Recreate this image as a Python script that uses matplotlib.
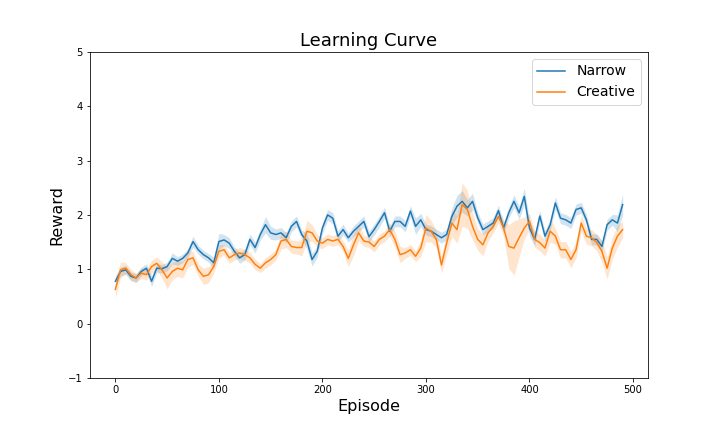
import numpy as np
import matplotlib
matplotlib.use("Agg")
import matplotlib.pyplot as plt

# values, one every 5 episodes
episodes = np.arange(0, 495, 5)

narrow_mean = [
    0.78, 0.96, 0.99, 0.87, 0.84, 0.96, 1.02, 0.78, 1.02, 1.01,
    1.05, 1.20, 1.15, 1.20, 1.30, 1.51, 1.36, 1.27, 1.21, 1.12,
    1.51, 1.54, 1.48, 1.33, 1.21, 1.27, 1.55, 1.40, 1.64, 1.82,
    1.67, 1.64, 1.67, 1.58, 1.79, 1.88, 1.64, 1.52, 1.18, 1.33,
    1.76, 2.00, 1.94, 1.61, 1.73, 1.58, 1.70, 1.79, 1.88, 1.60,
    1.73, 1.88, 2.04, 1.70, 1.88, 1.88, 1.79, 2.07, 1.79, 1.91,
    1.73, 1.70, 1.64, 1.58, 1.64, 1.97, 2.16, 2.25, 2.13, 2.25,
    1.95, 1.73, 1.79, 1.85, 2.08, 1.76, 2.04, 2.25, 2.04, 2.34,
    1.76, 1.55, 1.98, 1.61, 1.82, 2.22, 1.94, 1.91, 1.85, 2.10,
    2.13, 1.91, 1.55, 1.55, 1.42, 1.82, 1.91, 1.85, 2.19,
]
narrow_std = [
    0.10, 0.08, 0.08, 0.08, 0.08, 0.08, 0.08, 0.10, 0.08, 0.08,
    0.08, 0.10, 0.08, 0.08, 0.08, 0.10, 0.08, 0.08, 0.08, 0.10,
    0.15, 0.10, 0.10, 0.08, 0.10, 0.10, 0.10, 0.10, 0.10, 0.15,
    0.12, 0.10, 0.10, 0.10, 0.10, 0.10, 0.08, 0.15, 0.12, 0.10,
    0.10, 0.10, 0.10, 0.10, 0.10, 0.08, 0.10, 0.10, 0.10, 0.10,
    0.10, 0.10, 0.10, 0.10, 0.10, 0.10, 0.10, 0.10, 0.15, 0.12,
    0.10, 0.10, 0.10, 0.10, 0.10, 0.15, 0.20, 0.20, 0.15, 0.15,
    0.10, 0.10, 0.10, 0.10, 0.10, 0.10, 0.10, 0.12, 0.12, 0.15,
    0.15, 0.12, 0.10, 0.10, 0.10, 0.12, 0.10, 0.10, 0.10, 0.10,
    0.10, 0.10, 0.10, 0.10, 0.10, 0.10, 0.10, 0.15, 0.20,
]

creative_mean = [
    0.63, 0.99, 1.02, 0.90, 0.84, 0.93, 0.90, 1.05, 1.11, 0.99,
    0.84, 0.96, 1.02, 0.99, 1.18, 1.21, 0.99, 0.87, 0.90, 1.05,
    1.33, 1.36, 1.21, 1.27, 1.30, 1.27, 1.21, 1.09, 1.02, 1.12,
    1.18, 1.27, 1.52, 1.55, 1.42, 1.40, 1.40, 1.70, 1.67, 1.52,
    1.48, 1.55, 1.52, 1.55, 1.42, 1.20, 1.45, 1.67, 1.52, 1.50,
    1.42, 1.55, 1.61, 1.73, 1.55, 1.27, 1.30, 1.36, 1.24, 1.39,
    1.76, 1.70, 1.55, 1.08, 1.48, 1.85, 1.73, 2.19, 2.10, 1.79,
    1.55, 1.45, 1.67, 1.79, 1.97, 1.76, 1.42, 1.39, 1.58, 1.76,
    1.88, 1.55, 1.49, 1.39, 1.70, 1.61, 1.36, 1.36, 1.18, 1.36,
    1.85, 1.61, 1.58, 1.49, 1.33, 1.02, 1.39, 1.61, 1.73,
]
creative_std = [
    0.15, 0.15, 0.10, 0.10, 0.08, 0.10, 0.10, 0.12, 0.12, 0.15,
    0.20, 0.15, 0.15, 0.15, 0.15, 0.12, 0.12, 0.15, 0.15, 0.12,
    0.12, 0.10, 0.10, 0.10, 0.10, 0.10, 0.10, 0.10, 0.08, 0.10,
    0.10, 0.10, 0.15, 0.15, 0.12, 0.12, 0.15, 0.20, 0.15, 0.12,
    0.10, 0.10, 0.10, 0.10, 0.10, 0.15, 0.20, 0.15, 0.10, 0.10,
    0.10, 0.10, 0.10, 0.12, 0.15, 0.15, 0.10, 0.10, 0.10, 0.15,
    0.25, 0.20, 0.15, 0.15, 0.20, 0.25, 0.25, 0.40, 0.35, 0.25,
    0.20, 0.20, 0.15, 0.12, 0.12, 0.15, 0.40, 0.50, 0.35, 0.20,
    0.15, 0.15, 0.15, 0.15, 0.20, 0.15, 0.15, 0.15, 0.15, 0.15,
    0.15, 0.15, 0.15, 0.15, 0.20, 0.20, 0.20, 0.20, 0.15,
]

series = [
    ("Narrow", narrow_mean, narrow_std, "tab:blue"),
    ("Creative", creative_mean, creative_std, "tab:orange"),
]

fig, ax = plt.subplots(figsize=(10, 6), dpi=72)
fig.subplots_adjust(left=0.125, right=0.9, bottom=0.125, top=0.88)

for label, mean, std, color in series:
    mean = np.array(mean)
    std = np.array(std)
    ax.plot(episodes, mean, color=color, linewidth=1.5, label=label)
    ax.fill_between(episodes, mean - std, mean + std, color=color, alpha=0.2, linewidth=0)

ax.set_ylim(-1, 5)
ax.set_title("Learning Curve", fontsize=18)
ax.set_xlabel("Episode", fontsize=16)
ax.set_ylabel("Reward", fontsize=16)
ax.legend(loc="upper right", fontsize=14)

plt.savefig("out.png", dpi=72)
